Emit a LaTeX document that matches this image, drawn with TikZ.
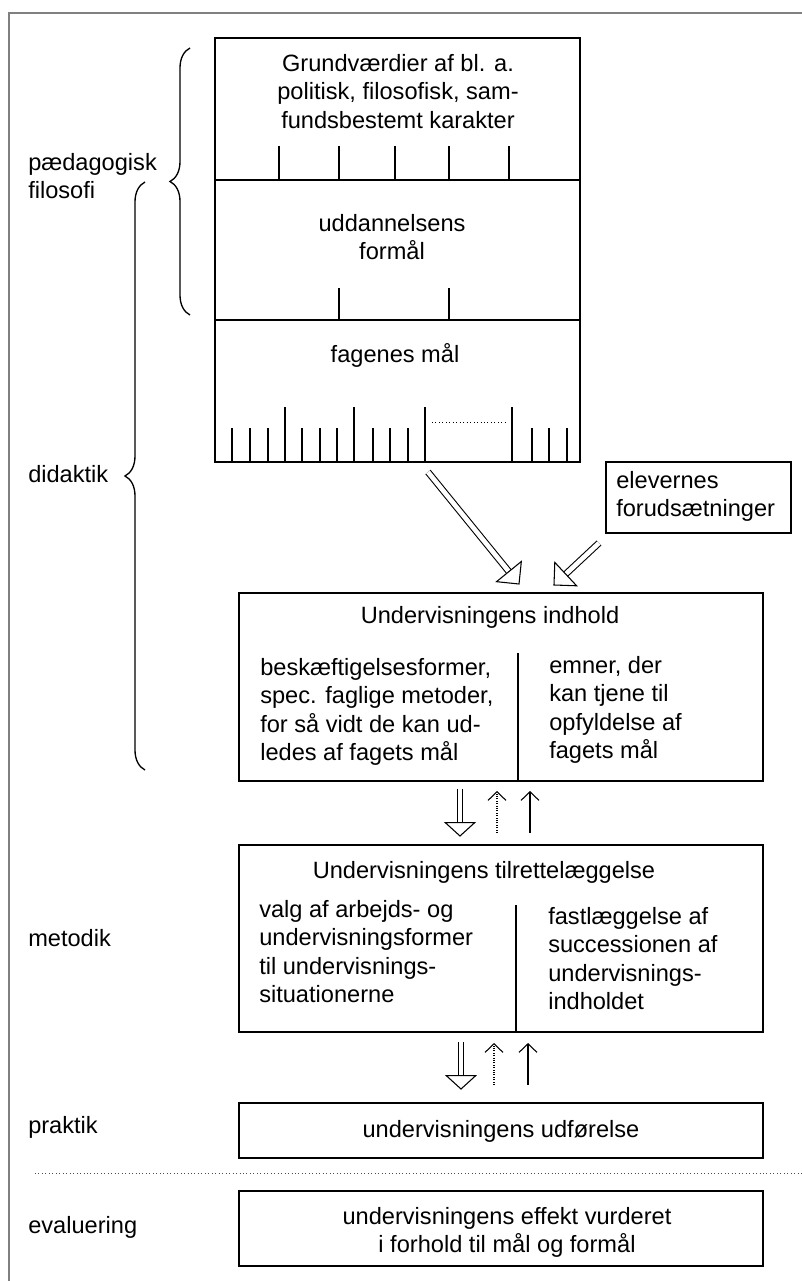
\documentclass[tikz,border=0pt]{standalone}
\usepackage{fontspec}
\setmainfont{Liberation Sans}
\usetikzlibrary{arrows.meta,decorations.pathreplacing,calc}

% hollow arrow: double shaft with an open triangular head
\newcommand{\hollowarrow}[4]{% start, end, head length, head half width
  \draw[shaft] (#1) -- ($(#2)!#3!(#1)$);
  \draw[headline] ($(#2)!#3!(#1)!#4!90:(#2)$) -- (#2) -- ($(#2)!#3!(#1)!#4!-90:(#2)$) -- cycle;
}

\begin{document}
\begin{tikzpicture}[x=0.75pt,y=-0.75pt,
  frame/.style={draw=black!50, line width=1.5pt},
  boxline/.style={draw=black, line width=1.2pt},
  tickline/.style={draw=black, line width=1pt},
  txt/.style={font=\fontsize{17.7}{21.4}\selectfont, inner sep=0pt},
  bracestyle/.style={draw=black, line width=1pt, decorate, decoration={brace, amplitude=15pt}},
  shaft/.style={draw=black, line width=0.8pt, double=white, double distance=3.5pt},
  headline/.style={draw=black, fill=white, line width=0.8pt, line join=miter},
  thinarrow/.style={draw=black, line width=0.8pt, -{Straight Barb[length=6.5pt,width=13.5pt]}},
]
\useasboundingbox (0,0) rectangle (802,1281);
\fill[white] (0,0) rectangle (802,1281);

% outer frame (top and left edges)
\draw[frame] (9,1281) -- (9,12.7) -- (802,12.7);

% stacked box of values, aims and subject goals
\draw[boxline] (215,38) rectangle (580,462);
\draw[boxline] (215,180) -- (580,180);
\draw[boxline] (215,320) -- (580,320);
\foreach \x in {279,339,395,449,509} \draw[tickline] (\x,146) -- (\x,180);
\foreach \x in {339,449} \draw[tickline] (\x,288) -- (\x,320);
\foreach \x in {285,354,425,512} \draw[tickline] (\x,407) -- (\x,462);
\foreach \x in {232,250,268,302,320,337,373,390,408,532,549,567} \draw[tickline] (\x,428) -- (\x,462);
\draw[dotted, line width=0.6pt] (432,422) -- (506,422);

\node[txt, anchor=north, align=center] (grund) at (398,51)
  {\strut Grundværdier af bl. a.\\politisk, filosofisk, sam-\\fundsbestemt karakter};
\node[txt, anchor=north, align=center] (formaal) at (392,211)
  {\strut uddannelsens\\formål};
\node[txt, anchor=north, align=center] (fagmaal) at (395,342)
  {\strut fagenes mål};

% braces and level labels on the left
\draw[bracestyle] (190,315) -- (190,48);
\draw[bracestyle] (145,770) -- (145,182);
\node[txt, anchor=north west, align=left] (paed) at (28,150) {\strut pædagogisk\\filosofi};
\node[txt, anchor=north west] (didaktik) at (28,462) {\strut didaktik};
\node[txt, anchor=north west] (metodik) at (28,926) {\strut metodik};
\node[txt, anchor=north west] (praktik) at (28,1113) {\strut praktik};
\node[txt, anchor=north west] (evaluering) at (28,1213) {\strut evaluering};

% pupils' prerequisites
\draw[boxline] (606,462) rectangle (791,533);
\node[txt, anchor=north west, align=left] (elev) at (616,468) {\strut elevernes\\forudsætninger};

% content of teaching
\draw[boxline] (239,593) rectangle (763,781);
\draw[boxline] (518,653) -- (518,781);
\node[txt, anchor=north] (indhold) at (490,603) {\strut Undervisningens indhold};
\node[txt, anchor=north west, align=left] (indL) at (260,655)
  {\strut beskæftigelsesformer,\\spec. faglige metoder,\\for så vidt de kan ud-\\ledes af fagets mål};
\node[txt, anchor=north west, align=left] (indR) at (549,653)
  {\strut emner, der\\kan tjene til\\opfyldelse af\\fagets mål};

% planning of teaching
\draw[boxline] (239,845) rectangle (763,1032);
\draw[boxline] (516,905) -- (516,1032);
\node[txt, anchor=north] (tilr) at (484,858) {\strut Undervisningens tilrettelæggelse};
\node[txt, anchor=north west, align=left] (tilL) at (259,897)
  {\strut valg af arbejds- og\\undervisningsformer\\til undervisnings-\\situationerne};
\node[txt, anchor=north west, align=left] (tilR) at (548,904)
  {\strut fastlæggelse af\\successionen af\\undervisnings-\\indholdet};

% execution
\draw[boxline] (239,1103) rectangle (763,1158);
\node[txt, anchor=north] (udf) at (501,1117) {\strut undervisningens udførelse};

% separator before evaluation
\draw[dotted, line width=0.6pt, black!70] (35,1173) -- (802,1173);

% evaluation
\draw[boxline] (239,1191) rectangle (763,1266);
\node[txt, anchor=north, align=center] (eval) at (507,1204)
  {\strut undervisningens effekt vurderet\\i forhold til mål og formål};

% arrow end points
\coordinate (a1s) at (428,472);  \coordinate (a1e) at (519,584);
\coordinate (a2s) at (599,543);  \coordinate (a2e) at (554,585);
\coordinate (d1s) at (460,789);  \coordinate (d1e) at (460,836);
\coordinate (u1s) at (497,833);  \coordinate (u1e) at (497,791);
\coordinate (u2s) at (530,833);  \coordinate (u2e) at (530,791);
\coordinate (d2s) at (461,1042); \coordinate (d2e) at (461,1089);
\coordinate (u3s) at (494,1085); \coordinate (u3e) at (494,1043);
\coordinate (u4s) at (528,1085); \coordinate (u4e) at (528,1043);

\hollowarrow{a1s}{a1e}{12pt}{12pt}
\hollowarrow{a2s}{a2e}{12pt}{12pt}
\hollowarrow{d1s}{d1e}{10pt}{11pt}
\hollowarrow{d2s}{d2e}{10pt}{11pt}

\draw[thinarrow, densely dotted] (u1s) -- (u1e);
\draw[thinarrow] (u2s) -- (u2e);
\draw[thinarrow, densely dotted] (u3s) -- (u3e);
\draw[thinarrow] (u4s) -- (u4e);
\end{tikzpicture}
\end{document}
